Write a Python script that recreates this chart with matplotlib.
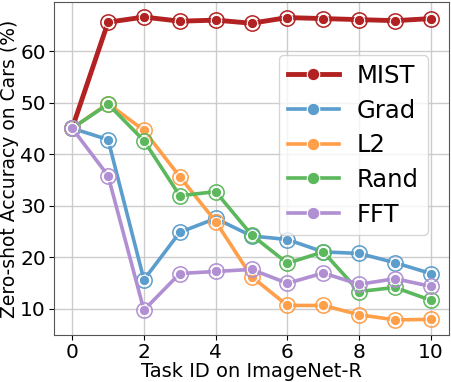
import numpy as np
import matplotlib.pyplot as plt
from matplotlib.lines import Line2D

# task ids on ImageNet-R
tasks = list(range(11))

# zero-shot accuracy on Cars (%)
mist = [45.0, 65.6, 66.6, 65.8, 66.0, 65.4, 66.5, 66.3, 66.1, 65.9, 66.3]
grad = [45.0, 42.8, 15.6, 24.8, 27.5, 24.1, 23.4, 21.0, 20.7, 18.9, 16.8]
l2 = [45.0, 49.8, 44.6, 35.6, 26.9, 16.2, 10.6, 10.6, 8.8, 7.8, 7.9]
rand = [45.0, 49.7, 42.6, 31.9, 32.7, 24.3, 18.8, 21.0, 13.3, 14.1, 11.6]
fft = [45.0, 35.8, 9.7, 16.8, 17.2, 17.6, 14.9, 16.9, 14.7, 15.8, 14.3]

names = ['MIST', 'Grad', 'L2', 'Rand', 'FFT']
series = [mist, grad, l2, rand, fft]
colors = ['#b22222', '#5b9dcc', '#ff9f4a', '#5cb85c', '#b08fd3']
widths = [3.5, 2.6, 2.6, 2.6, 2.6]

fig, ax = plt.subplots(figsize=(4.52, 3.82), dpi=100)

for name, vals, c, lw in zip(names, series, colors, widths):
    # line + outer ring
    ax.plot(tasks, vals, color=c, lw=lw, marker='o', ms=11,
            mfc='none', mec=c, mew=1.1, label=name)
    # inner filled dot with white edge
    ax.plot(tasks, vals, color=c, lw=0, marker='o', ms=7.5,
            mfc=c, mec='white', mew=0.8)

ax.set_xticks([0, 2, 4, 6, 8, 10])
ax.set_yticks([10, 20, 30, 40, 50, 60])
ax.tick_params(labelsize=14.5, pad=2.5)
ax.set_xlabel('Task ID on ImageNet-R', fontsize=14, labelpad=0)
ax.set_ylabel('Zero-shot Accuracy on Cars (%)', fontsize=13.5, labelpad=1)
ax.grid(True, color='#cccccc', lw=1)
for s in ax.spines.values():
    s.set_color('#555555')

# legend handles: single markers
handles = [Line2D([], [], color=c, lw=lw, marker='o', ms=9, mfc=c, mec='white', mew=0.8)
           for c, lw in zip(colors, widths)]
ax.legend(handles, names, loc='upper right', fontsize=17.5, handlelength=2.1,
          handletextpad=0.75, borderpad=0.35, labelspacing=0.44,
          bbox_to_anchor=(0.977, 0.876))

fig.subplots_adjust(left=0.12, right=0.993, top=0.995, bottom=0.123)
fig.savefig('out.png', dpi=100)
